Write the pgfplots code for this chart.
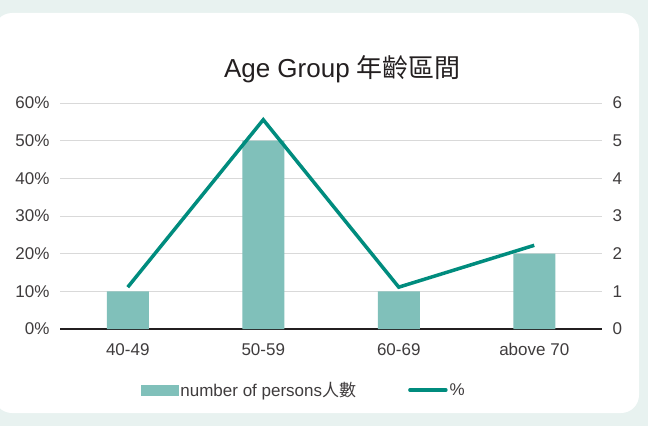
\documentclass[border=0pt]{standalone}
\usepackage{fontspec}
\setmainfont{Liberation Sans}
\newfontfamily\cjk{Noto Sans CJK TC}
\usepackage{pgfplots}
\pgfplotsset{compat=1.18}
\definecolor{bgc}{HTML}{E8F2F0}
\definecolor{barc}{HTML}{80C0BA}
\definecolor{linec}{HTML}{008C7E}
\definecolor{txt}{HTML}{3F3C3D}
\definecolor{ttl}{HTML}{231F20}
\definecolor{gridc}{HTML}{D9D9D9}

\begin{document}
\begin{tikzpicture}[x=1bp,y=1bp]
\clip (0,0) rectangle (648,426);
\fill[bgc] (0,0) rectangle (648,426);
\fill[white, rounded corners=18bp] (-6,13) rectangle (639,413);
\node[ttl, anchor=base, font=\fontsize{26bp}{30bp}\selectfont] at (342.5,349) {Age Group {\cjk 年齡區間}};

% bars: number of persons (right axis)
\begin{axis}[at={(60bp,97bp)}, anchor=south west, scale only axis,
  width=542bp, height=226bp,
  xmin=-0.5, xmax=3.5, ymin=0, ymax=6,
  axis y line*=right, axis x line*=bottom,
  y axis line style={draw=none},
  x axis line style={-, ttl, line width=2bp},
  xtick={0,1,2,3}, xticklabels={40-49,50-59,60-69,above 70},
  ytick={0,...,6},
  major tick length=0pt,
  ymajorgrids, grid style={gridc, line width=1bp},
  ticklabel style={txt, font=\fontsize{17bp}{20bp}\selectfont},
  /pgf/number format/assume math mode=true,
  yticklabel style={xshift=7bp},
  xticklabel style={yshift=-11bp},
  clip=false,
]
\addplot[ybar, bar width=42bp, fill=barc, draw=none] coordinates {(0,1) (1,5) (2,1) (3,2)};
\end{axis}

% line: percentage (left axis)
\begin{axis}[at={(60bp,97bp)}, anchor=south west, scale only axis,
  width=542bp, height=226bp,
  xmin=-0.5, xmax=3.5, ymin=0, ymax=60,
  axis y line*=left, axis x line=none,
  y axis line style={draw=none},
  xtick=\empty,
  ytick={0,10,...,60},
  yticklabel={\pgfmathprintnumber{\tick}\%},
  major tick length=0pt,
  ticklabel style={txt, font=\fontsize{17bp}{20bp}\selectfont},
  /pgf/number format/assume math mode=true,
  yticklabel style={xshift=-7bp},
  clip=false,
  legend columns=2,
  legend style={at={(0.45,-0.27)}, anchor=center, draw=none, fill=none,
    text=txt, font=\fontsize{17bp}{20bp}\selectfont,
    nodes={inner xsep=2bp},
    /tikz/every even column/.append style={column sep=50bp}},
]
\addlegendimage{legend image code/.code={\fill[barc] (0bp,-5bp) rectangle (37bp,5bp);}}
\addlegendentry{number of persons{\cjk 人數}}
\addplot[linec, line width=3.5bp,
  legend image code/.code={\draw[linec, line width=3.5bp, line cap=round] (2bp,0bp) -- (38bp,0bp);}]
  coordinates {(0,11.11) (1,55.56) (2,11.11) (3,22.22)};
\addlegendentry{\%}
\end{axis}
\end{tikzpicture}
\end{document}
